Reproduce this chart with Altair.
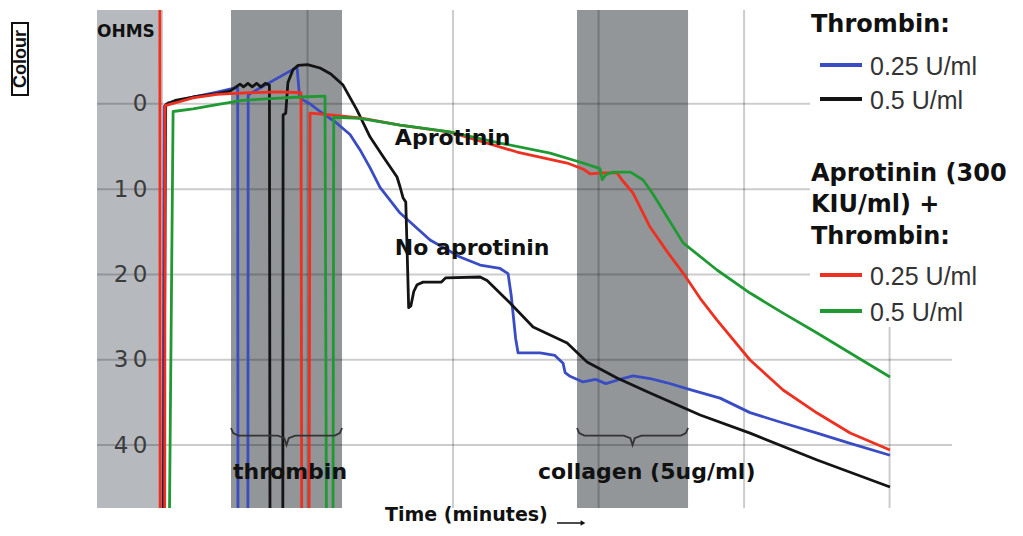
import altair as alt
import pandas as pd

# ---------------- data (time in minutes, impedance in ohms) ----------------
series_names = ["Thrombin 0.25 U/ml", "Thrombin 0.5 U/ml",
                "Aprotinin + Thrombin 0.25 U/ml", "Aprotinin + Thrombin 0.5 U/ml"]
series_colors = ["#3a4cc4", "#141414", "#ee3020", "#1f9a33"]

blue_pts = [(0.05, 50), (0.15, 0.3), (0.4, -0.1), (0.9, -0.3), (2.13, -0.8), (3.78, -1.38),
            (4.88, -1.8), (5.2, -1.9), (5.22, 50), (5.9, 50), (5.92, -1.0), (6.05, -1.2),
            (9.28, -4.3), (9.45, -0.8), (9.69, -0.45), (10.17, 0.0), (10.86, 0.9), (11.89, 2.1),
            (12.92, 3.6), (13.61, 5.4), (14.30, 7.5), (14.98, 9.8), (16.36, 12.8), (18.42, 15.97),
            (20.48, 17.96), (21.86, 18.9), (23.23, 19.3), (23.78, 19.9), (24.0, 22.5), (24.3, 27.5),
            (24.47, 29.2), (25.98, 29.2), (27.0, 29.5), (27.56, 30.4), (27.7, 31.5), (28.0, 31.9),
            (28.93, 32.6), (29.8, 32.3), (30.5, 32.8), (31.27, 32.4), (32.37, 31.9), (33.54, 32.2),
            (34.71, 32.7), (36.29, 33.5), (38.35, 34.5), (40.41, 36.2), (42.47, 37.3), (45.02, 38.6),
            (47.29, 39.8), (50.03, 41.2)]

black_pts = [(0.1, 50), (0.25, 0.1), (0.9, -0.4), (2.13, -0.8), (3.78, -1.2), (4.67, -1.5),
             (5.36, -2.3), (5.6, -2.0), (5.9, -2.4), (6.2, -2.0), (6.5, -2.4), (6.8, -2.0),
             (7.1, -2.4), (7.38, -2.2), (7.42, 50), (8.3, 50), (8.32, 1.3), (8.5, 1.1),
             (8.65, -2.5), (9.0, -4.0), (9.35, -4.5), (10.0, -4.6), (10.86, -4.2), (11.6, -3.5),
             (12.44, -2.2), (13.40, 0.73), (14.30, 3.89), (15.2, 6.2), (16.15, 8.58), (16.36, 9.75),
             (16.56, 11.0), (16.75, 11.5), (16.84, 17.0), (16.95, 23.9), (17.1, 23.7), (17.3, 22.0),
             (17.53, 21.2), (17.94, 20.9), (19.2, 20.9), (19.5, 20.4), (21.86, 20.3), (22.34, 20.7),
             (23.92, 23.35), (25.5, 26.17), (27.84, 28.04), (29.21, 30.27), (31.27, 32.15),
             (33.54, 33.9), (36.98, 36.48), (40.41, 38.6), (45.02, 41.76), (50.03, 44.92)]

red_pts = [(-0.15, -14), (-0.13, 50), (0.18, 50), (0.21, 0.2), (0.9, -0.1), (2.13, -0.7),
           (3.78, -1.1), (4.67, -1.2), (6.0, -1.3), (8.0, -1.4), (9.55, -1.3), (9.6, 50),
           (10.1, 50), (10.17, 1.1), (11.0, 1.2), (13.61, 1.66), (16.36, 2.49), (19.79, 3.31),
           (22.34, 4.6), (24.4, 5.65), (27.84, 6.94), (29.0, 7.7), (29.42, 8.2), (30.3, 8.1),
           (31.27, 8.1), (31.6, 8.9), (32.37, 10.46), (33.54, 14.44), (34.7, 17.3), (35.81, 19.84),
           (36.98, 22.8), (38.14, 25.35), (40.41, 30.03), (42.68, 33.55), (45.02, 36.25),
           (47.29, 38.59), (50.03, 40.58)]

green_pts = [(0.5, 50), (0.76, 0.9), (2.13, 0.6), (3.78, 0.1), (5.5, -0.4), (7.5, -0.6),
             (9.5, -0.8), (11.2, -0.9), (11.3, 50), (11.75, 50), (11.8, 1.6), (12.23, 1.6),
             (13.61, 1.7), (16.36, 2.5), (19.79, 3.3), (23.23, 4.6), (26.67, 5.77), (28.93, 6.94),
             (30.1, 7.6), (30.25, 8.9), (30.5, 8.3), (31.0, 8.0), (32.2, 8.0), (33.06, 8.93),
             (33.75, 10.6), (35.81, 16.3), (38.14, 19.48), (40.41, 22.18), (42.68, 24.53),
             (45.02, 26.87), (47.29, 29.21), (50.03, 32.03)]

band_start = [-4.47, 4.74, 28.52]
band_end = [-0.14, 12.37, 36.15]
band_color = ["#b6babe", "#929699", "#929699"]

y_ticks = [0, 10, 20, 30, 40]
x_grid = [0, 10, 20, 30, 40, 50]

ann_text = ["Aprotinin", "No aprotinin", "thrombin", "collagen (5ug/ml)"]
ann_x = [16.0, 16.0, 4.88, 25.84]
ann_y = [4.0, 16.9, 43.2, 43.2]

legend_titles = ["Thrombin:", "Aprotinin (300", "KIU/ml) +", "Thrombin:"]
legend_labels = ["0.25 U/ml", "0.5 U/ml", "0.25 U/ml", "0.5 U/ml"]

# ---------------- layout ----------------
W, H = 855, 498
X_DOMAIN = [-4.47, 54.29]
Y_DOMAIN = [-11.0, 47.38]

xs = alt.Scale(domain=X_DOMAIN, nice=False, zero=False)
ys = alt.Scale(domain=Y_DOMAIN, reverse=True, nice=False, zero=False)
yaxis = alt.Axis(values=y_ticks, grid=False, domain=False, ticks=False, tickSize=0,
                 labelPadding=2, offset=-52, zindex=1, title=None,
                 labelExpr="datum.value < 10 ? datum.label : slice(datum.label, 0, 1) + '\u2009' + slice(datum.label, 1)",
                 labelFont="DejaVu Sans", labelFontSize=23, labelColor="#3c3c3c")


def X(f):
    return alt.X(f, type="quantitative", scale=xs, axis=None)


def Y(f):
    return alt.Y(f, type="quantitative", scale=ys, axis=yaxis)


rows = []
for name, color, pts in zip(series_names, series_colors, [blue_pts, black_pts, red_pts, green_pts]):
    for i, (t, v) in enumerate(pts):
        rows.append({"series": name, "color": color, "t": t, "ohms": v, "i": i})
lines_df = pd.DataFrame(rows)

bands_df = pd.DataFrame({"start": band_start, "end": band_end, "color": band_color})
hgrid_df = pd.DataFrame({"v": y_ticks})
vgrid_df = pd.DataFrame({"u": x_grid})
ann_df = pd.DataFrame({"label": ann_text, "x": ann_x, "y": ann_y})

# curly braces under the reagent bands
brace_rows = []
for k, (a, b) in enumerate(zip(band_start[1:], band_end[1:])):
    m = (a + b) / 2
    shape = [(a, 38.0), (a + 0.15, 38.6), (a + 0.5, 38.9), (m - 0.6, 38.9), (m - 0.15, 39.2),
             (m, 40.0), (m + 0.15, 39.2), (m + 0.6, 38.9), (b - 0.5, 38.9), (b - 0.15, 38.6), (b, 38.0)]
    for i, (t, v) in enumerate(shape):
        brace_rows.append({"brace": k, "t": t, "v": v, "i": i})
brace_df = pd.DataFrame(brace_rows)

bands = alt.Chart(bands_df).mark_rect().encode(
    x=X("start"), x2="end", y=alt.value(0), y2=alt.value(H),
    color=alt.Color("color:N", scale=None))

hgrid = alt.Chart(hgrid_df).mark_rule(color="black", opacity=0.2, strokeWidth=2).encode(
    y=Y("v"), x=alt.value(0), x2=alt.value(W))

vgrid = alt.Chart(vgrid_df).mark_rule(color="black", opacity=0.2, strokeWidth=2).encode(
    x=X("u"), y=alt.value(0), y2=alt.value(H))

lines = alt.Chart(lines_df).mark_line(strokeWidth=2.8, clip=True, strokeJoin="round").encode(
    x=X("t"), y=Y("ohms"), color=alt.Color("color:N", scale=None),
    detail="series:N", order="i:Q")

braces = alt.Chart(brace_df).mark_line(color="#333333", strokeWidth=1.8).encode(
    x=X("t"), y=Y("v"), detail="brace:N", order="i:Q")

ann = alt.Chart(ann_df).mark_text(font="DejaVu Sans", fontWeight="bold", fontSize=22,
                                  align="left", baseline="middle", color="#111111").encode(
    x=X("x"), y=Y("y"), text="label:N")

legend_bg = alt.Chart().mark_rect(color="white").encode(
    x=alt.value(713), x2=alt.value(W + 70), y=alt.value(-3), y2=alt.value(317))

layers = [bands, hgrid, vgrid, lines, braces, ann, legend_bg]

title_y = [15, 164, 195, 227]
for t, yy in zip(legend_titles, title_y):
    layers.append(alt.Chart().mark_text(text=t, font="DejaVu Sans", fontWeight="bold", fontSize=24,
                                        align="left", baseline="middle", color="#111111").encode(
        x=alt.value(714), y=alt.value(yy)))

label_y = [57, 91, 267, 303]
for lab, col, yy in zip(legend_labels, series_colors, label_y):
    layers.append(alt.Chart().mark_rule(color=col, strokeWidth=4).encode(
        x=alt.value(723), x2=alt.value(765), y=alt.value(yy - 2)))
    layers.append(alt.Chart().mark_text(text=lab, font="Liberation Sans", fontSize=25,
                                        align="left", baseline="middle", color="#333333").encode(
        x=alt.value(773), y=alt.value(yy)))

# decorations: OHMS, axis title, arrow, Colour box
layers.append(alt.Chart().mark_text(text="OHMS", font="DejaVu Sans", fontWeight="bold", fontSize=17,
                                    align="left", baseline="middle", color="#111111").encode(
    x=alt.value(0), y=alt.value(22)))
layers.append(alt.Chart().mark_text(text="Time (minutes)", font="DejaVu Sans", fontWeight="bold",
                                    fontSize=19, align="left", baseline="middle", color="#111111").encode(
    x=alt.value(288), y=alt.value(505)))
layers.append(alt.Chart().mark_rule(color="#111111", strokeWidth=1.5).encode(
    x=alt.value(460), x2=alt.value(484), y=alt.value(513)))
layers.append(alt.Chart().mark_point(shape="triangle-right", filled=True, size=30, color="#111111",
                                     opacity=1).encode(x=alt.value(486), y=alt.value(513)))
layers.append(alt.Chart().mark_rect(fillOpacity=0, stroke="#111111", strokeWidth=2).encode(
    x=alt.value(-85), x2=alt.value(-69), y=alt.value(13), y2=alt.value(85)))
layers.append(alt.Chart().mark_text(text="Colour", font="Liberation Sans", fontWeight="bold",
                                    fontSize=18, angle=270, align="center", baseline="middle",
                                    color="#111111").encode(x=alt.value(-76), y=alt.value(49)))

chart = alt.layer(*layers).properties(
    width=W, height=H,
    autosize=alt.AutoSizeParams(type="none"),
    padding={"left": 89, "top": 2, "right": 63, "bottom": 20},
    background="white",
).configure_view(stroke=None)

chart.save("out.html", embed_options={"renderer": "svg", "actions": False})
